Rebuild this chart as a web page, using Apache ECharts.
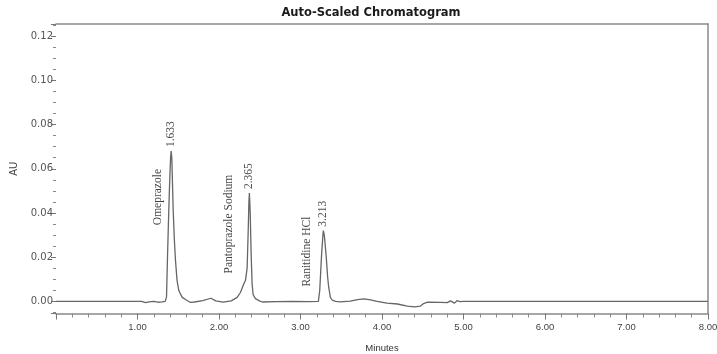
<!DOCTYPE html>
<html>
<head>
<meta charset="utf-8">
<script src="https://cdn.jsdelivr.net/npm/echarts@6/dist/echarts.min.js"></script>
<style>
  html, body { margin: 0; padding: 0; background: #fff; }
  #chart { width: 717px; height: 354px; }
</style>
</head>
<body>
<div id="chart"></div>
<script>
// detector trace (minutes, AU)
var traceTime = [0.00, 1.05, 1.10, 1.14, 1.20, 1.25, 1.30, 1.34,
    1.356, 1.368, 1.384, 1.397, 1.406, 1.413, 1.421, 1.438, 1.452, 1.466, 1.485, 1.507, 1.548, 1.60, 1.65,
    1.70, 1.80, 1.90, 1.96, 2.05, 2.15, 2.223,
    2.263, 2.30, 2.325, 2.345, 2.357, 2.367, 2.373, 2.383, 2.394, 2.406, 2.419, 2.447, 2.47, 2.496, 2.533,
    2.70, 2.90, 3.10, 3.219,
    3.236, 3.257, 3.273, 3.28, 3.292, 3.316, 3.333, 3.346, 3.367, 3.39, 3.43,
    3.49, 3.61, 3.70, 3.78, 3.86, 3.94, 4.06, 4.19, 4.31, 4.40, 4.47, 4.51, 4.56, 4.72, 4.80, 4.84,
    4.89, 4.92, 4.96, 5.00, 8.00];
var traceAU = [0.0000, 0.0000, -0.0006, -0.0002, 0.0000, -0.0004, -0.0002, 0.0000,
    0.0020, 0.0200, 0.0414, 0.0566, 0.0650, 0.0680, 0.0650, 0.0410, 0.0280, 0.0186, 0.0095, 0.0049, 0.0018, 0.0006, -0.0005,
    -0.0003, 0.0003, 0.0014, 0.0002, -0.0004, 0.0002, 0.0018,
    0.0040, 0.0075, 0.0095, 0.0150, 0.0300, 0.0450, 0.0490, 0.0400, 0.0220, 0.0080, 0.0030, 0.0012, 0.0015, 0.0002, -0.0003,
    -0.0001, 0.0000, -0.0001, 0.0000,
    0.0049, 0.0200, 0.0290, 0.0320, 0.0300, 0.0200, 0.0110, 0.0064, 0.0018, 0.0005, 0.0000,
    -0.0002, 0.0001, 0.0008, 0.0011, 0.0007, 0.0000, -0.0008, -0.0012, -0.0022, -0.0025, -0.0022, -0.0010, -0.0004, -0.0005, -0.0006, 0.0002,
    -0.0008, 0.0003, -0.0001, 0.0000, 0.0000];

// peak annotations
var peakTime = [1.413, 2.373, 3.28];
var peakHeight = [0.0680, 0.0490, 0.0320];
var peakName = ['Omeprazole', 'Pantoprazole Sodium', 'Ranitidine HCl'];
var peakRt = ['1.633', '2.365', '3.213'];

var xMin = 0, xMax = 8, xStep = 1;
var yMin = -0.0055, yMax = 0.1255, yStep = 0.02;

var chart = echarts.init(document.getElementById('chart'));

var trace = traceTime.map(function (t, i) { return [t, traceAU[i]]; });
var apex = peakTime.map(function (t, i) { return [t, peakHeight[i]]; });
// where each compound name sits relative to its apex, in the label's rotated frame (px)
var nameOffset = [[-46, -13.5], [-31, -20], [-21, -16]];

var borderLine = { show: true, onZero: false, lineStyle: { color: '#8a8a8a', width: 1.5 } };

var option = {
    animation: false,
    title: {
        text: 'Auto-Scaled Chromatogram',
        left: 366,
        textAlign: 'center',
        top: 2,
        textStyle: { fontFamily: 'DejaVu Sans', fontSize: 11.5, fontWeight: 'bold', color: '#1a1a1a' }
    },
    grid: { left: 56, right: 9, top: 24, bottom: 40.5, outerBoundsMode: 'none', containLabel: false },
    xAxis: [
        {
            type: 'value',
            min: xMin, max: xMax, interval: xStep,
            name: 'Minutes',
            nameLocation: 'middle',
            nameGap: 30,
            nameTextStyle: { fontFamily: 'Liberation Sans', fontSize: 9.5, color: '#333' },
            axisLine: borderLine,
            axisTick: { show: true, length: 6, lineStyle: { color: '#777' } },
            minorTick: { show: true, splitNumber: 5, length: 4, lineStyle: { color: '#888' } },
            splitLine: { show: false },
            axisLabel: {
                showMinLabel: false,
                margin: 9,
                fontFamily: 'Liberation Sans', fontSize: 9.5, color: '#444',
                formatter: function (v) { return v.toFixed(2); }
            }
        },
        {
            type: 'value', position: 'top',
            min: xMin, max: xMax,
            axisLine: borderLine,
            axisTick: { show: false }, axisLabel: { show: false }, splitLine: { show: false }
        }
    ],
    yAxis: [
        {
            type: 'value',
            min: yMin, max: yMax,
            minInterval: yStep, maxInterval: yStep, splitNumber: 6,
            name: 'AU',
            nameLocation: 'middle',
            nameGap: 31,
            nameRotate: 90,
            nameTextStyle: { fontFamily: 'DejaVu Sans', fontSize: 10, color: '#444' },
            axisLine: { show: false, onZero: false },
            axisTick: { show: true, length: 5, lineStyle: { color: '#777' } },
            minorTick: { show: true, splitNumber: 4, length: 3, lineStyle: { color: '#888' } },
            splitLine: { show: false },
            axisLabel: {
                showMinLabel: false, showMaxLabel: false,
                margin: 3,
                fontFamily: 'DejaVu Sans', fontSize: 10, color: '#555',
                formatter: function (v) { return v.toFixed(2); }
            }
        },
        {
            type: 'value', position: 'right',
            min: yMin, max: yMax,
            axisLine: borderLine,
            axisTick: { show: false }, axisLabel: { show: false }, splitLine: { show: false }
        }
    ],
    series: [
        {
            name: 'trace',
            type: 'line',
            data: trace,
            showSymbol: false,
            clip: false,
            lineStyle: { color: '#666', width: 1.3 },
            silent: true
        },
        {
            name: 'rt',
            type: 'scatter',
            data: apex,
            symbolSize: 0,
            silent: true,
            label: {
                show: true,
                position: 'top',
                distance: 4,
                rotate: 90,
                align: 'left',
                verticalAlign: 'middle',
                fontFamily: 'Liberation Serif', fontSize: 11.5, color: '#222',
                formatter: function (p) { return peakRt[p.dataIndex]; }
            }
        },
        {
            name: 'compound',
            type: 'scatter',
            data: apex.map(function (d, i) {
                return { value: d, label: { offset: nameOffset[i] } };
            }),
            symbolSize: 0,
            silent: true,
            label: {
                show: true,
                position: 'inside',
                rotate: 90,
                align: 'center',
                verticalAlign: 'middle',
                fontFamily: 'Liberation Serif', fontSize: 11.5, color: '#111',
                formatter: function (p) { return peakName[p.dataIndex]; }
            }
        }
    ]
};

chart.setOption(option);
</script>
</body>
</html>
